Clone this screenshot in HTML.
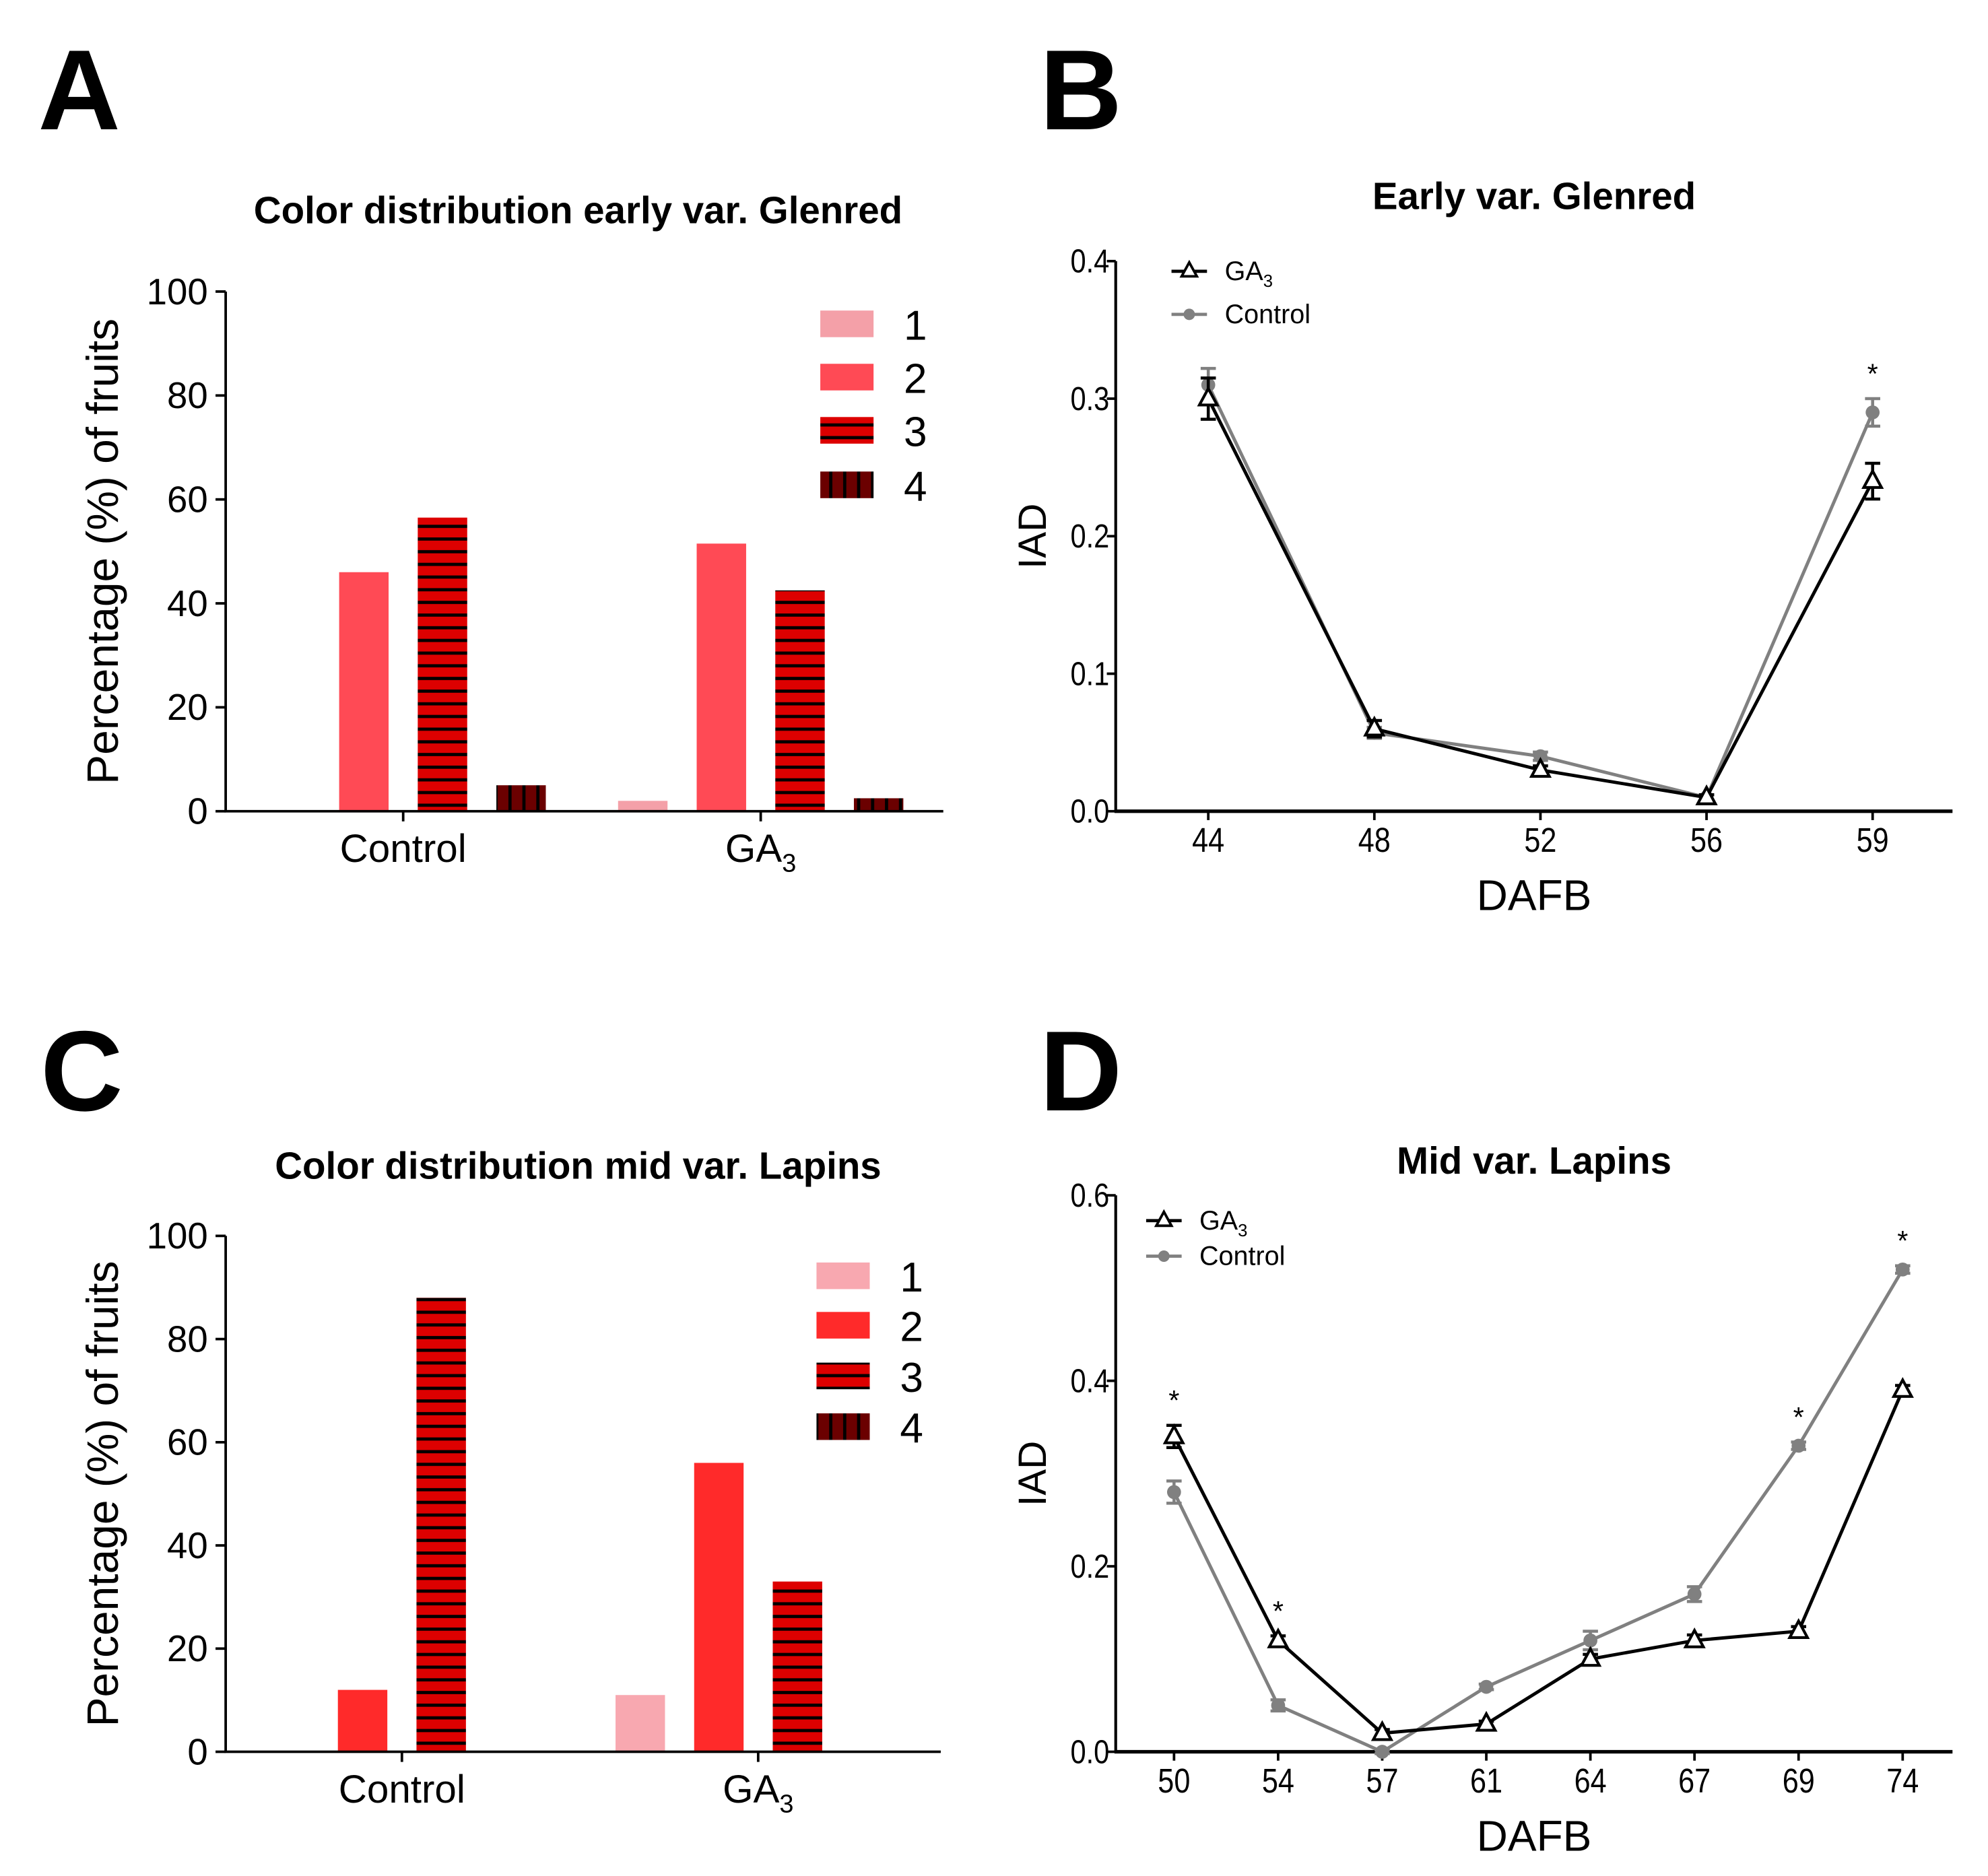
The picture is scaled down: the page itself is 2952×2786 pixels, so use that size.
<!DOCTYPE html>
<html><head><meta charset="utf-8"><style>
html,body{margin:0;padding:0;background:#fff;}
svg{display:block;font-family:"Liberation Sans",Arial,sans-serif;}
</style></head><body>
<svg id="fig" width="2952" height="2786" viewBox="0 0 1568 1480" preserveAspectRatio="none" xmlns="http://www.w3.org/2000/svg">
<defs>
<pattern id="hstripe" width="8" height="10" patternUnits="userSpaceOnUse"><rect width="8" height="10" fill="#dd0000"/><rect y="4" width="8" height="2.5" fill="#000"/></pattern>
<pattern id="vstripe" width="11" height="8" patternUnits="userSpaceOnUse"><rect width="11" height="8" fill="#6b0000"/><rect x="5" width="2.5" height="8" fill="#000"/></pattern>
</defs>
<g id="root"></g>
</svg>
<script>
// ---- Panel A data ----
const aGroups = ["Control", "GA3"];
const aSeries1 = [0, 2];
const aSeries2 = [46, 51.5];
const aSeries3 = [56.5, 42.5];
const aSeries4 = [5, 2.5];
const barTicks = [0, 20, 40, 60, 80, 100];
// ---- Panel C data ----
const cSeries1 = [0, 11];
const cSeries2 = [12, 56];
const cSeries3 = [88, 33];
const cSeries4 = [0, 0];
// ---- Panel B data ----
const bDays = ["44", "48", "52", "56", "59"];
const bGA3 = [0.30, 0.06, 0.03, 0.01, 0.24];
const bGA3Err = [0.015, 0.006, 0.003, 0.002, 0.013];
const bCtrl = [0.31, 0.057, 0.04, 0.01, 0.29];
const bCtrlErr = [0.012, 0.004, 0.003, 0.002, 0.01];
const bStars = [false, false, false, false, true];
const bTicks = [0.0, 0.1, 0.2, 0.3, 0.4];
// ---- Panel D data ----
const dDays = ["50", "54", "57", "61", "64", "67", "69", "74"];
const dGA3 = [0.34, 0.12, 0.02, 0.03, 0.10, 0.12, 0.13, 0.39];
const dGA3Err = [0.012, 0.005, 0.004, 0.003, 0.005, 0.006, 0.005, 0.005];
const dCtrl = [0.28, 0.05, 0.0, 0.07, 0.12, 0.17, 0.33, 0.52];
const dCtrlErr = [0.012, 0.006, 0.002, 0.003, 0.01, 0.008, 0.004, 0.004];
const dStars = [true, true, false, false, false, false, true, true];
const dTicks = [0.0, 0.2, 0.4, 0.6];

const NS = "http://www.w3.org/2000/svg";
const root = document.getElementById("root");
function mk(tag, attrs, parent, text) {
  const e = document.createElementNS(NS, tag);
  for (const k in attrs) e.setAttribute(k, attrs[k]);
  if (text !== undefined) e.textContent = text;
  (parent || root).appendChild(e);
  return e;
}
function grp(name) {
  const g = mk("g", {});
  
  
  return g;
}
function txt(g, x, y, s, size, opts) {
  opts = opts || {};
  const t = mk("text", {x: x, y: y, "font-size": size, "text-anchor": opts.anchor || "middle", "font-weight": opts.bold ? "bold" : "normal", fill: opts.fill || "#000"}, g, s);
  if (opts.rot) t.setAttribute("transform", "rotate(-90 " + x + " " + y + ")");
  if (opts.sx) t.setAttribute("transform", "translate(" + x + " " + y + ") scale(" + opts.sx + " 1) translate(" + (-x) + " " + (-y) + ")");
  
  
  return t;
}
function ga3Text(g, x, y, size, anchor, name) {
  const t = mk("text", {x: x, y: y, "font-size": size, "text-anchor": anchor || "middle"}, g);
  
  
  t.appendChild(document.createTextNode("GA"));
  mk("tspan", {"font-size": size * 0.65, dy: size * 0.25}, t, "3");
  return t;
}

// Panel letters
[["A", 30, 102], ["B", 820, 102], ["C", 32, 876], ["D", 820, 876]].forEach(function (p) {
  const g = grp("panel-letter-" + p[0].toLowerCase());
  txt(g, p[1], p[2], p[0], 90, {anchor: "start", bold: true, name: "panel-letter-" + p[0].toLowerCase()});
});

function barChart(id, title, titleY, ax, y0, y100, xEnd, centers, series, fills, legendX, legendYs, legendX2) {
  const g = grp(id);
  txt(g, 456, titleY, title, 30, {bold: true, name: "chart-title"});
  const yS = v => y0 + (y100 - y0) * v / 100;
  const offs = [-93, -31, 31, 93];
  series.forEach(function (arr, si) {
    arr.forEach(function (v, gi) {
      if (v <= 0) return;
      const cx = centers[gi] + offs[si];
      const r = mk("rect", {x: cx - 19.5, y: yS(v), width: 39, height: y0 - yS(v), fill: fills[si]}, g);
      
      
    });
  });
  const yAx = mk("line", {x1: ax, y1: y100, x2: ax, y2: y0, stroke: "#000", "stroke-width": 2}, g);
  
  
  const xAx = mk("line", {x1: ax - 1, y1: y0, x2: xEnd, y2: y0, stroke: "#000", "stroke-width": 2}, g);
  
  
  barTicks.forEach(function (t) {
    mk("line", {x1: ax - 8, y1: yS(t), x2: ax, y2: yS(t), stroke: "#000", "stroke-width": 2}, g);
    txt(g, ax - 14, yS(t) + 10, String(t), 29, {anchor: "end", name: "y-tick-label"});
  });
  centers.forEach(function (c, i) {
    mk("line", {x1: c, y1: y0, x2: c, y2: y0 + 8, stroke: "#000", "stroke-width": 2}, g);
    if (i === 0) txt(g, c, y0 + 40, "Control", 31, {name: "x-tick-label"});
    else ga3Text(g, c, y0 + 40, 31, "middle", "x-tick-label");
  });
  txt(g, 93, (y0 + y100) / 2, "Percentage (%) of fruits", 35, {rot: true, name: "y-axis-title"});
  legendYs.forEach(function (ly, i) {
    const r = mk("rect", {x: legendX, y: ly, width: 42, height: 21, fill: fills[i]}, g);
    
    
    txt(g, legendX2, ly + 23, String(i + 1), 33, {name: "legend-label-" + (i + 1)});
  });
}
barChart("panel-a-bar-chart", "Color distribution early var. Glenred", 176, 178, 640, 230, 744, [318, 600],
  [aSeries1, aSeries2, aSeries3, aSeries4], ["#f4a0a8", "#ff4a55", "url(#hstripe)", "url(#vstripe)"],
  647, [245, 287, 329, 372], 722);
barChart("panel-c-bar-chart", "Color distribution mid var. Lapins", 930, 178, 1382, 975, 742, [317, 598],
  [cSeries1, cSeries2, cSeries3, cSeries4], ["#f8a8b0", "#ff2a2a", "url(#hstripe)", "url(#vstripe)"],
  644, [996, 1035, 1075, 1115], 719);

function lineChart(id, title, titleY, ax, y0, yTop, maxV, xEnd, x0, dx, days, ticks, ga3, ga3e, ctrl, ctrle, stars, legX, legY1, legY2) {
  const g = grp(id);
  txt(g, 1210, titleY, title, 30, {bold: true, name: "chart-title"});
  const yS = v => y0 - (y0 - yTop) * v / maxV;
  const xS = i => x0 + dx * i;
  const yAx = mk("line", {x1: ax, y1: yTop, x2: ax, y2: y0, stroke: "#000", "stroke-width": 2.2}, g);
  
  
  const xAx = mk("line", {x1: ax - 1, y1: y0, x2: xEnd, y2: y0, stroke: "#000", "stroke-width": 2.8}, g);
  
  
  ticks.forEach(function (t) {
    mk("line", {x1: ax - 7, y1: yS(t), x2: ax, y2: yS(t), stroke: "#000", "stroke-width": 2}, g);
    txt(g, ax - 5, yS(t) + 9, t.toFixed(1), 26, {anchor: "end", name: "y-tick-label", sx: 0.85});
  });
  days.forEach(function (d, i) {
    mk("line", {x1: xS(i), y1: y0, x2: xS(i), y2: y0 + 7, stroke: "#000", "stroke-width": 2}, g);
    txt(g, xS(i), y0 + 32, d, 27, {name: "x-tick-label", sx: 0.85});
  });
  txt(g, 1210, y0 + 78, "DAFB", 34, {name: "x-axis-title"});
  txt(g, ax - 55, (y0 + yTop) / 2, "IAD", 31, {rot: true, name: "y-axis-title"});
  function series(vals, errs, color, name, marker) {
    const sg = mk("g", {}, g);
    
    
    const pts = vals.map((v, i) => xS(i) + "," + yS(v)).join(" ");
    const pl = mk("polyline", {points: pts, fill: "none", stroke: color, "stroke-width": 2.6}, sg);
    
    
    vals.forEach(function (v, i) {
      const x = xS(i), y = yS(v), e = errs[i];
      mk("path", {d: "M" + x + " " + yS(v + e) + "V" + yS(v - e) + "M" + (x - 6) + " " + yS(v + e) + "H" + (x + 6) + "M" + (x - 6) + " " + yS(v - e) + "H" + (x + 6), stroke: color, "stroke-width": 2.4, fill: "none"}, sg);
      let m;
      if (marker === "tri") m = mk("path", {d: "M" + x + " " + (y - 8) + "L" + (x - 7) + " " + (y + 5) + "L" + (x + 7) + " " + (y + 5) + "Z", fill: "#fff", stroke: "#000", "stroke-width": 2.2}, sg);
      else m = mk("circle", {cx: x, cy: y, r: 5.5, fill: color}, sg);
      
      
    });
  }
  series(ctrl, ctrle, "#808080", "control", "dot");
  series(ga3, ga3e, "#000", "ga3", "tri");
  stars.forEach(function (s, i) {
    if (!s) return;
    const top = Math.max(ga3[i] + ga3e[i], ctrl[i] + ctrle[i]);
    txt(g, xS(i), yS(top) - 12, "*", 22, {name: "significance-star"});
  });
  mk("line", {x1: legX - 14, y1: legY1, x2: legX + 14, y2: legY1, stroke: "#000", "stroke-width": 2.5}, g);
  const lt = mk("path", {d: "M" + legX + " " + (legY1 - 7) + "L" + (legX - 6) + " " + (legY1 + 4) + "L" + (legX + 6) + " " + (legY1 + 4) + "Z", fill: "#fff", stroke: "#000", "stroke-width": 2}, g);
  
  
  ga3Text(g, legX + 28, legY1 + 7, 21, "start", "legend-ga3-label");
  mk("line", {x1: legX - 14, y1: legY2, x2: legX + 14, y2: legY2, stroke: "#808080", "stroke-width": 2.5}, g);
  const lc = mk("circle", {cx: legX, cy: legY2, r: 4.5, fill: "#808080"}, g);
  
  
  txt(g, legX + 28, legY2 + 7, "Control", 21, {anchor: "start", name: "legend-control-label"});
}
lineChart("panel-b-line-chart", "Early var. Glenred", 165, 880, 640, 206, 0.4, 1540, 953, 131, bDays, bTicks,
  bGA3, bGA3Err, bCtrl, bCtrlErr, bStars, 938, 214, 248);
lineChart("panel-d-line-chart", "Mid var. Lapins", 926, 880, 1382, 943, 0.6, 1540, 926, 82.1, dDays, dTicks,
  dGA3, dGA3Err, dCtrl, dCtrlErr, dStars, 918, 963, 991);
</script>
</body></html>
